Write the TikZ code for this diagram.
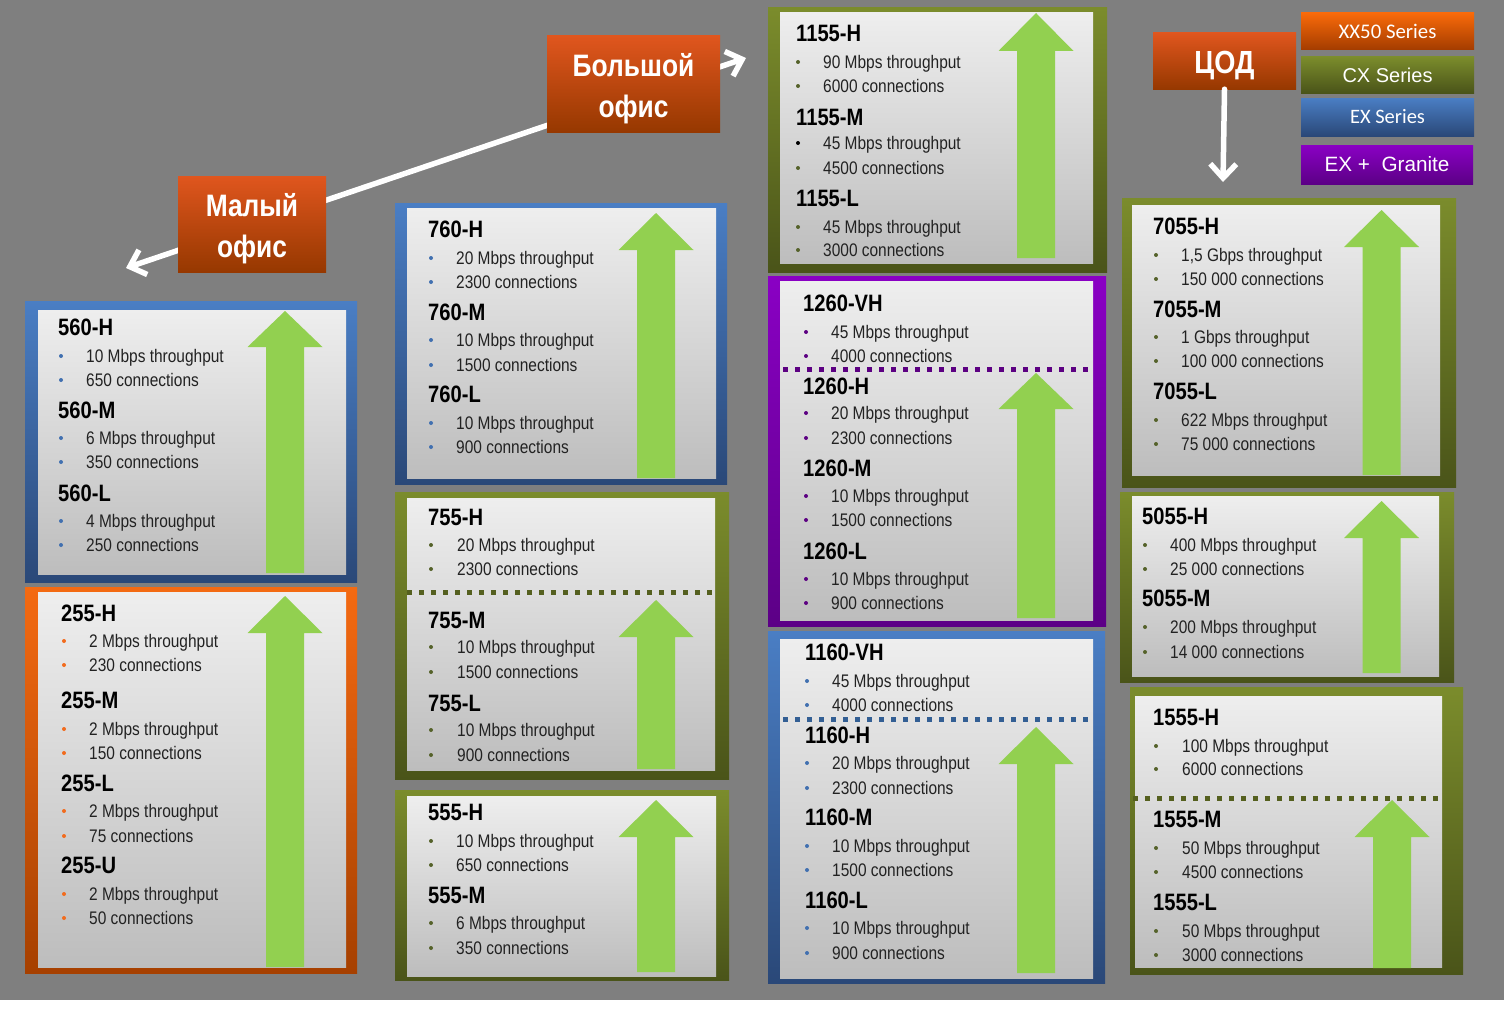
\documentclass[tikz,border=0pt]{standalone}
\usepackage{fontspec}
\setmainfont{Liberation Sans}
\newfontfamily\nfont{Liberation Sans}[FakeStretch=0.85]
\newfontfamily\cfont{Carlito}
\usetikzlibrary{arrows.meta}
\definecolor{bgc}{HTML}{7F7F7F}
\definecolor{blT}{HTML}{4A7EC4}
\definecolor{blB}{HTML}{2A4878}
\definecolor{orT}{HTML}{F46A12}
\definecolor{orB}{HTML}{A64000}
\definecolor{olT}{HTML}{7B8C2C}
\definecolor{olB}{HTML}{4A5419}
\definecolor{puT}{HTML}{8A00C4}
\definecolor{puB}{HTML}{5C0086}
\definecolor{inT}{HTML}{EEEEEE}
\definecolor{inB}{HTML}{BDBDBD}
\definecolor{agreen}{HTML}{92D050}
\definecolor{offT}{HTML}{E0561E}
\definecolor{offB}{HTML}{963800}
\definecolor{bulBl}{HTML}{4170B0}
\definecolor{bulOr}{HTML}{F26B1D}
\definecolor{bulOl}{HTML}{55622A}
\definecolor{bulPu}{HTML}{5C0082}
\definecolor{dotOl}{HTML}{55601F}
\definecolor{dotPu}{HTML}{5C0082}
\definecolor{dotBl}{HTML}{335F94}
\definecolor{txtc}{HTML}{222222}
\definecolor{xxT}{HTML}{F96A0A}
\definecolor{xxB}{HTML}{A33C00}
\newcommand\pnl[9]{\shade[#9] (#1,#2) rectangle (#3,#4); \shade[innerpanel] (#5,#6) rectangle (#7,#8);}
\newcommand\uparr[4]{\fill[agreen] (#1,#2) -- (#1+37.5,#3) -- (#1+19,#3) -- (#1+19,#4) -- (#1-19,#4) -- (#1-19,#3) -- (#1-37.5,#3) -- cycle;}
\newcommand\hdg[4]{\node[hdtxt] (#1) at (#2,#3+8.5) {#4};}
\newcommand\itm[6]{\node[bulletdot, fill=#5] (#1b) at (#2,#4) {};\node[bodytxt] (#1) at (#3,#4+6.5) {#6};}
\begin{document}
\begin{tikzpicture}[x=1pt,y=-1pt,
  bluefr/.style={top color=blT, bottom color=blB},
  orangefr/.style={top color=orT, bottom color=orB},
  olivefr/.style={top color=olT, bottom color=olB},
  purplefr/.style={top color=puT, bottom color=puB},
  innerpanel/.style={top color=inT, bottom color=inB},
  hdtxt/.style={anchor=base west, inner sep=0, font=\nfont\bfseries\fontsize{23.7}{24}\selectfont, text=black},
  bodytxt/.style={anchor=base west, inner sep=0, font=\nfont\fontsize{18.2}{19}\selectfont, text=txtc},
  bulletdot/.style={circle, inner sep=0, minimum size=4pt, draw=none},
  dotline/.style={line width=5pt, dash pattern=on 5pt off 7pt},
  officebox/.style={top color=offT, bottom color=offB, inner sep=0},
  officetext/.style={text=white, align=center, inner sep=0,
     font=\nfont\bfseries\fontsize{31}{41}\selectfont},
  lgbox/.style={inner sep=0, minimum width=173pt, text=white},
  wline/.style={draw=white, line width=5.5pt, line cap=round},
  barb/.tip={Straight Barb[length=14pt 0, width=26pt 0, line width=5.5pt]}
]
\useasboundingbox (0,0) rectangle (1504,1025);
\fill[white] (0,0) rectangle (1504,1025);
\fill[bgc] (0,0) rectangle (1504,1000);

% ---------- office connectors (behind the boxes)
\coordinate (smalltip) at (126,268);
\coordinate (bigtip) at (746,58);
\draw[wline, barb-barb] (smalltip) -- (bigtip);

\node[officebox, minimum width=148pt, minimum height=96pt] (small) at (252,224) {};
\node[officetext] (smalltxt) at (252,229) {Малый\\офис};
\node[officebox, minimum width=173pt, minimum height=96pt] (big) at (633.5,84) {};
\node[officetext] (bigtxt) at (633.5,89) {Большой\\офис};
\node[officebox, minimum width=143pt, minimum height=56pt] (cod) at (1224.5,61) {};
\node[officetext, font=\nfont\bfseries\fontsize{32}{36}\selectfont] (codtxt) at (1224.5,66) {ЦОД};
\coordinate (codtip) at (1223,182);
\draw[wline, -barb] (cod.south) -- (codtip);

% ---------- legend
\node[lgbox, minimum height=37pt, top color=xxT, bottom color=xxB, font=\cfont\fontsize{20.8}{22}\selectfont] (lgxx) at (1387.5,31.5) {XX50 Series};
\node[lgbox, minimum height=36pt, top color=olT, bottom color=olB, font=\fontsize{20}{22}\selectfont] (lgcx) at (1387.5,75) {CX Series};
\node[lgbox, minimum height=38pt, top color=blT, bottom color=blB, font=\cfont\fontsize{20.5}{22}\selectfont] (lgex) at (1387.5,117) {EX Series};
\node[lgbox, minimum width=172pt, minimum height=39pt, top color=puT, bottom color=puB, font=\fontsize{20.7}{22}\selectfont] (lgeg) at (1387,164.5) {EX +\ \ Granite};

% ---------- 560
\pnl{25}{301}{357}{582}{38}{310}{346}{574}{bluefr}
\uparr{285}{311}{347}{573}
\hdg{h560H}{58}{327}{560-H}
\itm{i560a}{61}{86}{356}{bulBl}{10 Mbps throughput}
\itm{i560b}{61}{86}{380}{bulBl}{650 connections}
\hdg{h560M}{58}{410}{560-M}
\itm{i560c}{61}{86}{438}{bulBl}{6 Mbps throughput}
\itm{i560d}{61}{86}{462}{bulBl}{350 connections}
\hdg{h560L}{58}{493}{560-L}
\itm{i560e}{61}{86}{521}{bulBl}{4 Mbps throughput}
\itm{i560f}{61}{86}{545}{bulBl}{250 connections}

% ---------- 255
\pnl{25}{587}{357}{973}{38}{592}{346}{967}{orangefr}
\uparr{285}{596}{633}{967}
\hdg{h255H}{61}{613}{255-H}
\itm{i255a}{64}{89}{641}{bulOr}{2 Mbps throughput}
\itm{i255b}{64}{89}{665}{bulOr}{230 connections}
\hdg{h255M}{61}{700}{255-M}
\itm{i255c}{64}{89}{729}{bulOr}{2 Mbps throughput}
\itm{i255d}{64}{89}{753}{bulOr}{150 connections}
\hdg{h255L}{61}{783}{255-L}
\itm{i255e}{64}{89}{811}{bulOr}{2 Mbps throughput}
\itm{i255f}{64}{89}{836}{bulOr}{75 connections}
\hdg{h255U}{61}{865}{255-U}
\itm{i255g}{64}{89}{894}{bulOr}{2 Mbps throughput}
\itm{i255h}{64}{89}{918}{bulOr}{50 connections}

% ---------- 760
\pnl{395}{203}{727}{484}{407}{208}{716}{478}{bluefr}
\uparr{656}{213}{250}{478}
\hdg{h760H}{428}{229}{760-H}
\itm{i760a}{431}{456}{258}{bulBl}{20 Mbps throughput}
\itm{i760b}{431}{456}{282}{bulBl}{2300 connections}
\hdg{h760M}{428}{312}{760-M}
\itm{i760c}{431}{456}{340}{bulBl}{10 Mbps throughput}
\itm{i760d}{431}{456}{365}{bulBl}{1500 connections}
\hdg{h760L}{428}{394}{760-L}
\itm{i760e}{431}{456}{423}{bulBl}{10 Mbps throughput}
\itm{i760f}{431}{456}{447}{bulBl}{900 connections}

% ---------- 755
\pnl{395}{492}{729}{779}{407}{498}{715}{770}{olivefr}
\uparr{656}{600}{637}{769}
\draw[dotline, dotOl] (407,592) -- (715,592);
\hdg{h755H}{428}{517}{755-H}
\itm{i755a}{431}{457}{545}{bulOl}{20 Mbps throughput}
\itm{i755b}{431}{457}{569}{bulOl}{2300 connections}
\hdg{h755M}{428}{620}{755-M}
\itm{i755c}{431}{457}{647}{bulOl}{10 Mbps throughput}
\itm{i755d}{431}{457}{672}{bulOl}{1500 connections}
\hdg{h755L}{428}{703}{755-L}
\itm{i755e}{431}{457}{730}{bulOl}{10 Mbps throughput}
\itm{i755f}{431}{457}{755}{bulOl}{900 connections}

% ---------- 555
\pnl{395}{790}{729}{980}{407}{796}{716}{976}{olivefr}
\uparr{656}{800}{837}{972}
\hdg{h555H}{428}{812}{555-H}
\itm{i555a}{431}{456}{841}{bulOl}{10 Mbps throughput}
\itm{i555b}{431}{456}{865}{bulOl}{650 connections}
\hdg{h555M}{428}{895}{555-M}
\itm{i555c}{431}{456}{923}{bulOl}{6 Mbps throughput}
\itm{i555d}{431}{456}{948}{bulOl}{350 connections}

% ---------- 1155
\pnl{768}{8}{1107}{272}{780}{13}{1093}{263}{olivefr}
\uparr{1036}{13}{51}{258}
\hdg{h1155H}{796}{33}{1155-H}
\itm{i1155a}{798}{823}{62}{bulOl}{90 Mbps throughput}
\itm{i1155b}{798}{823}{86}{bulOl}{6000 connections}
\hdg{h1155M}{796}{117}{1155-M}
\itm{i1155c}{798}{823}{143}{black}{45 Mbps throughput}
\itm{i1155d}{798}{823}{168}{bulOl}{4500 connections}
\hdg{h1155L}{796}{198}{1155-L}
\itm{i1155e}{798}{823}{227}{bulOl}{45 Mbps throughput}
\itm{i1155f}{798}{823}{250}{bulOl}{3000 connections}

% ---------- 1260
\pnl{768}{276}{1106}{626}{780}{281}{1093}{620}{purplefr}
\uparr{1036}{373}{409}{618}
\draw[dotline, dotPu] (783,369) -- (1090,369);
\hdg{h1260VH}{803}{303}{1260-VH}
\itm{i1260a}{806}{831}{332}{bulPu}{45 Mbps throughput}
\itm{i1260b}{806}{831}{356}{bulPu}{4000 connections}
\hdg{h1260H}{803}{386}{1260-H}
\itm{i1260c}{806}{831}{413}{bulPu}{20 Mbps throughput}
\itm{i1260d}{806}{831}{438}{bulPu}{2300 connections}
\hdg{h1260M}{803}{468}{1260-M}
\itm{i1260e}{806}{831}{496}{bulPu}{10 Mbps throughput}
\itm{i1260f}{806}{831}{520}{bulPu}{1500 connections}
\hdg{h1260L}{803}{551}{1260-L}
\itm{i1260g}{806}{831}{579}{bulPu}{10 Mbps throughput}
\itm{i1260h}{806}{831}{603}{bulPu}{900 connections}

% ---------- 1160
\pnl{768}{631}{1105}{983}{780}{639}{1093}{978}{bluefr}
\uparr{1036}{727}{764}{973}
\draw[dotline, dotBl] (783,719) -- (1090,719);
\hdg{h1160VH}{805}{652}{1160-VH}
\itm{i1160a}{807}{832}{681}{bulBl}{45 Mbps throughput}
\itm{i1160b}{807}{832}{705}{bulBl}{4000 connections}
\hdg{h1160H}{805}{735}{1160-H}
\itm{i1160c}{807}{832}{763}{bulBl}{20 Mbps throughput}
\itm{i1160d}{807}{832}{788}{bulBl}{2300 connections}
\hdg{h1160M}{805}{817}{1160-M}
\itm{i1160e}{807}{832}{846}{bulBl}{10 Mbps throughput}
\itm{i1160f}{807}{832}{870}{bulBl}{1500 connections}
\hdg{h1160L}{805}{900}{1160-L}
\itm{i1160g}{807}{832}{928}{bulBl}{10 Mbps throughput}
\itm{i1160h}{807}{832}{953}{bulBl}{900 connections}

% ---------- 7055
\pnl{1122}{198}{1456}{487}{1132}{205}{1440}{475}{olivefr}
\uparr{1381.5}{210}{247}{475}
\hdg{h7055H}{1153}{226}{7055-H}
\itm{i7055a}{1156}{1181}{255}{bulOl}{1,5 Gbps throughput}
\itm{i7055b}{1156}{1181}{279}{bulOl}{150 000 connections}
\hdg{h7055M}{1153}{309}{7055-M}
\itm{i7055c}{1156}{1181}{337}{bulOl}{1 Gbps throughput}
\itm{i7055d}{1156}{1181}{361}{bulOl}{100 000 connections}
\hdg{h7055L}{1153}{391}{7055-L}
\itm{i7055e}{1156}{1181}{420}{bulOl}{622 Mbps throughput}
\itm{i7055f}{1156}{1181}{444}{bulOl}{75 000 connections}

% ---------- 5055
\pnl{1120}{492}{1454}{682}{1132}{496}{1439}{676}{olivefr}
\uparr{1381.5}{501}{538}{673}
\hdg{h5055H}{1142}{516}{5055-H}
\itm{i5055a}{1145}{1170}{545}{bulOl}{400 Mbps throughput}
\itm{i5055b}{1145}{1170}{569}{bulOl}{25 000 connections}
\hdg{h5055M}{1142}{598}{5055-M}
\itm{i5055c}{1145}{1170}{627}{bulOl}{200 Mbps throughput}
\itm{i5055d}{1145}{1170}{652}{bulOl}{14 000 connections}

% ---------- 1555
\pnl{1130}{687}{1463}{974}{1135}{696}{1442}{967}{olivefr}
\uparr{1392}{800}{837}{968}
\draw[dotline, dotOl] (1133,798) -- (1440,798);
\hdg{h1555H}{1153}{717}{1555-H}
\itm{i1555a}{1156}{1182}{746}{bulOl}{100 Mbps throughput}
\itm{i1555b}{1156}{1182}{769}{bulOl}{6000 connections}
\hdg{h1555M}{1153}{819}{1555-M}
\itm{i1555c}{1156}{1182}{848}{bulOl}{50 Mbps throughput}
\itm{i1555d}{1156}{1182}{872}{bulOl}{4500 connections}
\hdg{h1555L}{1153}{902}{1555-L}
\itm{i1555e}{1156}{1182}{931}{bulOl}{50 Mbps throughput}
\itm{i1555f}{1156}{1182}{955}{bulOl}{3000 connections}
\end{tikzpicture}
\end{document}
